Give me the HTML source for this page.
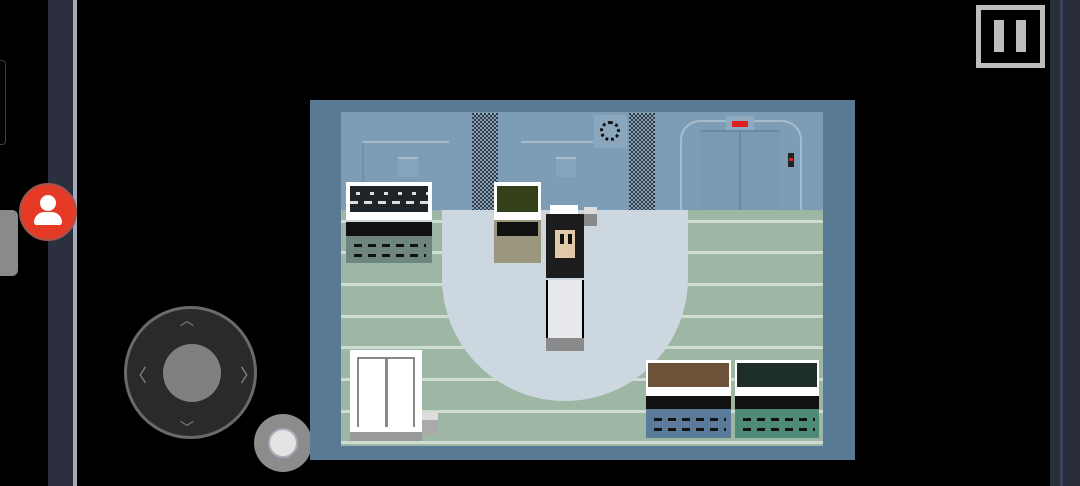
<!DOCTYPE html><html><head><style>
*{margin:0;padding:0;box-sizing:border-box}
body{width:1080px;height:486px;background:#000;position:relative;overflow:hidden;font-family:"Liberation Sans",sans-serif}
div{position:absolute}
.chk{background-color:#2e3a48;background-image:linear-gradient(45deg,#8aa0b4 25%,transparent 25%,transparent 75%,#8aa0b4 75%),linear-gradient(45deg,#8aa0b4 25%,transparent 25%,transparent 75%,#8aa0b4 75%);background-size:4px 4px;background-position:0 0,2px 2px}
.fl{height:3px;background:#cfdcd2}
.dk{background:#1e2428}
.w{background:#fff}
</style></head><body>
<!-- left bar -->
<div style="left:48px;top:0;width:26px;height:486px;background:#2c303e"></div>
<div style="left:73px;top:0;width:4px;height:486px;background:#a4aab8"></div>
<div style="left:0;top:60px;width:6px;height:85px;border:1px solid #2a4a48;border-left:none;border-radius:0 4px 4px 0"></div>
<div style="left:0;top:210px;width:18px;height:66px;background:#8a8a8a;border-radius:0 6px 6px 0"></div>
<div style="left:19px;top:183px;width:58px;height:58px;border-radius:50%;background:#e53a25;border:2px solid #a0564e"></div>
<div style="left:40px;top:195px;width:16px;height:16px;border-radius:50%;background:#fff"></div>
<div style="left:34px;top:212px;width:28px;height:13px;border-radius:12px 12px 3px 3px;background:#fff"></div>
<!-- joystick -->
<div style="left:124px;top:306px;width:133px;height:133px;border-radius:50%;background:#2a2a2a;border:3px solid #6a6a6a"></div>
<div style="left:163px;top:344px;width:58px;height:58px;border-radius:50%;background:#808080"></div>
<div style="left:180px;top:310px;color:#888;font-size:14px">︿</div>
<div style="left:180px;top:418px;color:#888;font-size:14px">﹀</div>
<div style="left:129px;top:362px;color:#888;font-size:18px">〈</div>
<div style="left:240px;top:362px;color:#888;font-size:18px">〉</div>
<div style="left:254px;top:414px;width:58px;height:58px;border-radius:50%;background:#8c8c8c"></div>
<div style="left:268px;top:428px;width:30px;height:30px;border-radius:50%;background:#e4e4e4;border:2px solid #aab"></div>
<!-- right -->
<div style="left:1050px;top:0;width:30px;height:486px;background:#2a2d3a"></div>
<div style="left:1060px;top:0;width:3px;height:486px;background:#3e4460"></div>
<div style="left:976px;top:5px;width:69px;height:63px;border:5px solid #bdbdbd"></div>
<div style="left:994px;top:20px;width:10px;height:32px;background:#bdbdbd"></div>
<div style="left:1016px;top:20px;width:10px;height:32px;background:#bdbdbd"></div>
<!-- game -->
<div style="left:310px;top:100px;width:545px;height:360px;background:#587a94"></div>
<div style="left:341px;top:112px;width:482px;height:99px;background:#7d9db6"></div>
<div style="left:341px;top:210px;width:482px;height:236px;background:#9eb7a5"></div>
<div class="fl" style="left:341px;top:220px;width:482px"></div>
<div class="fl" style="left:341px;top:251px;width:482px"></div>
<div class="fl" style="left:341px;top:283px;width:482px"></div>
<div class="fl" style="left:341px;top:315px;width:482px"></div>
<div class="fl" style="left:341px;top:346px;width:482px"></div>
<div class="fl" style="left:341px;top:378px;width:482px"></div>
<div class="fl" style="left:341px;top:410px;width:482px"></div>
<div class="fl" style="left:341px;top:441px;width:482px"></div>
<!-- wall details -->
<div style="left:363px;top:141px;width:86px;height:2px;background:#a6bccd"></div>
<div style="left:362px;top:143px;width:2px;height:67px;background:#6f8ea8"></div>
<div style="left:398px;top:157px;width:20px;height:20px;background:#86a4bb;border-top:2px solid #a6bccd"></div>
<div style="left:521px;top:141px;width:72px;height:2px;background:#a6bccd"></div>
<div style="left:556px;top:157px;width:20px;height:20px;background:#86a4bb;border-top:2px solid #a6bccd"></div>
<div style="left:594px;top:115px;width:33px;height:33px;background:#8aa7bd"></div>
<div style="left:600px;top:121px;width:20px;height:20px;border-radius:50%;border:3px dotted #111"></div>
<div class="chk" style="left:472px;top:113px;width:26px;height:97px"></div>
<div class="chk" style="left:629px;top:113px;width:26px;height:97px"></div>
<!-- elevator -->
<div style="left:680px;top:120px;width:122px;height:90px;border:2px solid #a6bccd;border-bottom:none;border-radius:20px 20px 0 0"></div>
<div style="left:700px;top:130px;width:80px;height:80px;background:#7a9ab3;border-top:2px solid #6a89a3"></div>
<div style="left:739px;top:132px;width:2px;height:78px;background:#6a89a3"></div>
<div style="left:726px;top:116px;width:28px;height:14px;background:#8faabf"></div>
<div style="left:732px;top:121px;width:16px;height:6px;background:#e02020"></div>
<div style="left:788px;top:153px;width:6px;height:14px;background:#222"></div>
<div style="left:789px;top:158px;width:4px;height:3px;background:#e02020"></div>
<!-- light area -->
<div style="left:442px;top:210px;width:246px;height:68px;background:#cdd7e0"></div>
<div style="left:442px;top:155px;width:246px;height:246px;border-radius:50%;background:#cdd7e0;clip-path:inset(123px 0 0 0)"></div>
<!-- left console -->
<div class="w" style="left:346px;top:182px;width:86px;height:38px"></div>
<div class="dk" style="left:350px;top:186px;width:78px;height:26px;background:repeating-linear-gradient(90deg,#1e2428 0 6px,#ddd 6px 10px,#1e2428 10px 14px) 0 6px/100% 3px no-repeat,repeating-linear-gradient(90deg,#ddd 0 8px,#1e2428 8px 14px) 0 15px/100% 3px no-repeat,#1e2428"></div>
<div class="dk" style="left:346px;top:222px;width:86px;height:14px;background:#111"></div>
<div style="left:346px;top:236px;width:86px;height:27px;background:#6f8580"></div>
<div style="left:354px;top:244px;width:72px;height:3px;background:repeating-linear-gradient(90deg,#111 0 8px,transparent 8px 14px)"></div>
<div style="left:354px;top:254px;width:72px;height:3px;background:repeating-linear-gradient(90deg,#111 0 8px,transparent 8px 14px)"></div>
<!-- small console -->
<div class="w" style="left:494px;top:182px;width:47px;height:38px"></div>
<div style="left:497px;top:186px;width:41px;height:26px;background:#34401a"></div>
<div style="left:494px;top:220px;width:47px;height:43px;background:#9a977e"></div>
<div style="left:497px;top:222px;width:41px;height:14px;background:#111"></div>
<!-- character -->
<div class="w" style="left:550px;top:205px;width:28px;height:12px"></div>
<div style="left:584px;top:207px;width:13px;height:19px;background:#888;border-top:7px solid #ddd"></div>
<div style="left:546px;top:214px;width:38px;height:64px;background:#1c1c1c"></div>
<div style="left:555px;top:230px;width:20px;height:28px;background:#e0c8a8"></div>
<div style="left:560px;top:234px;width:4px;height:10px;background:#111"></div>
<div style="left:568px;top:234px;width:4px;height:10px;background:#111"></div>
<div class="w" style="left:546px;top:280px;width:38px;height:64px;border-left:2px solid #000;border-right:2px solid #000;background:#e6e8ec"></div>
<div style="left:546px;top:338px;width:38px;height:13px;background:#8a8a8a"></div>
<!-- doors -->
<div class="w" style="left:350px;top:350px;width:72px;height:84px"></div>
<div style="left:357px;top:357px;width:58px;height:70px;border:2px solid #888;border-bottom:none"></div>
<div style="left:385px;top:357px;width:3px;height:70px;background:#888"></div>
<div style="left:350px;top:432px;width:72px;height:9px;background:#999"></div>
<div style="left:422px;top:412px;width:16px;height:22px;background:#aaa;border-top:8px solid #ddd"></div>
<!-- bottom right consoles -->
<div class="w" style="left:646px;top:360px;width:85px;height:36px"></div>
<div style="left:648px;top:363px;width:81px;height:24px;background:#6b5238"></div>
<div style="left:646px;top:396px;width:85px;height:13px;background:#111"></div>
<div style="left:646px;top:409px;width:85px;height:29px;background:#5a7b9a"></div>
<div class="w" style="left:735px;top:360px;width:84px;height:36px"></div>
<div style="left:737px;top:363px;width:80px;height:24px;background:#1d2e28"></div>
<div style="left:735px;top:396px;width:84px;height:13px;background:#111"></div>
<div style="left:735px;top:409px;width:84px;height:29px;background:#4d8a77"></div>
<div style="left:654px;top:418px;width:72px;height:3px;background:repeating-linear-gradient(90deg,#111 0 8px,transparent 8px 14px)"></div>
<div style="left:743px;top:418px;width:72px;height:3px;background:repeating-linear-gradient(90deg,#111 0 8px,transparent 8px 14px)"></div>
<div style="left:654px;top:428px;width:72px;height:3px;background:repeating-linear-gradient(90deg,#111 0 8px,transparent 8px 14px)"></div>
<div style="left:743px;top:428px;width:72px;height:3px;background:repeating-linear-gradient(90deg,#111 0 8px,transparent 8px 14px)"></div>
</body></html>
